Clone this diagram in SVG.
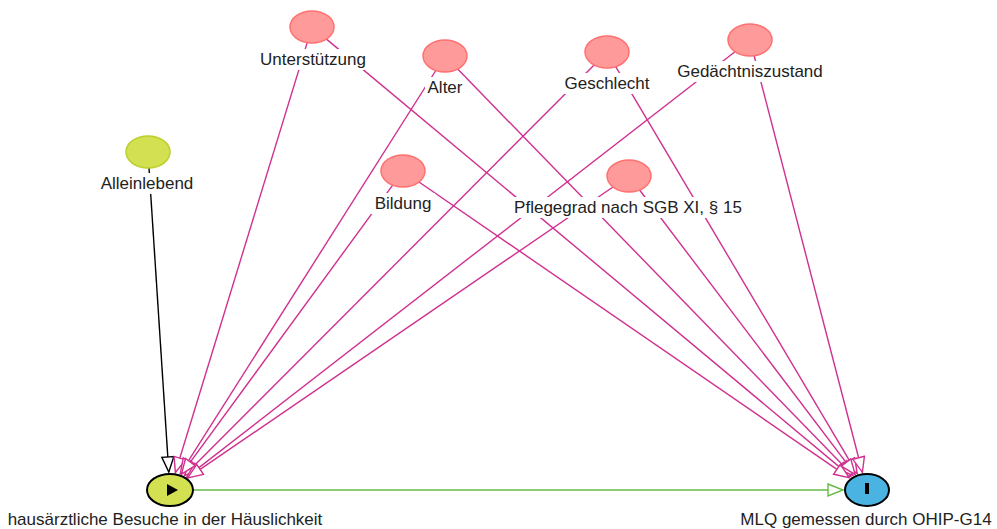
<svg xmlns="http://www.w3.org/2000/svg" width="997" height="529" viewBox="0 0 997 529">
<style>
.conf{fill:#ff9a9a;stroke:#ff7070;stroke-width:1.5}
.anc{fill:#d2e052;stroke:#bccf2a;stroke-width:1.5}
.lbl{font-family:"Liberation Sans",Arial,sans-serif;font-size:17px;fill:#222;text-anchor:middle}
.bg{fill:#fff}
.pk{stroke:#d0308f;stroke-width:1.4;fill:none}
.bk{stroke:#000;stroke-width:1.4;fill:none}
.gr{stroke:#66bb44;stroke-width:1.6;fill:none}
</style>
<defs>
<marker id="mp" markerUnits="userSpaceOnUse" markerWidth="20" markerHeight="16" refX="16" refY="7" orient="auto"><path d="M1,1 L16,7 L1,13 z" fill="#fff" stroke="#d0308f" stroke-width="1.4"/></marker>
<marker id="mb" markerUnits="userSpaceOnUse" markerWidth="20" markerHeight="16" refX="16" refY="7" orient="auto"><path d="M1,1 L16,7 L1,13 z" fill="#fff" stroke="#000" stroke-width="1.4"/></marker>
<marker id="mg" markerUnits="userSpaceOnUse" markerWidth="20" markerHeight="16" refX="16" refY="7" orient="auto"><path d="M1,1 L16,7 L1,13 z" fill="#fff" stroke="#66bb44" stroke-width="1.4"/></marker>
</defs>
<rect width="997" height="529" fill="#fff"/>
<g id="connectors">
<line class="bk" x1="149" y1="168" x2="168.8" y2="472" marker-end="url(#mb)"/>
<line class="pk" x1="307.2" y1="42.6" x2="175.4" y2="472.5" marker-end="url(#mp)"/>
<line class="pk" x1="435.8" y1="70.5" x2="180.3" y2="473.7" marker-end="url(#mp)"/>
<line class="pk" x1="594.1" y1="65" x2="184.4" y2="475.6" marker-end="url(#mp)"/>
<line class="pk" x1="735" y1="51.7" x2="186.7" y2="477.1" marker-end="url(#mp)"/>
<line class="pk" x1="392.7" y1="185.1" x2="181.5" y2="474.2" marker-end="url(#mp)"/>
<line class="pk" x1="613" y1="187" x2="187.7" y2="477.9" marker-end="url(#mp)"/>
<line class="pk" x1="326.5" y1="39.1" x2="851" y2="476.6" marker-end="url(#mp)"/>
<line class="pk" x1="457.7" y1="69.1" x2="852.9" y2="475.5" marker-end="url(#mp)"/>
<line class="pk" x1="615.7" y1="66.7" x2="857.2" y2="473.6" marker-end="url(#mp)"/>
<line class="pk" x1="754.1" y1="55.7" x2="862.4" y2="472.3" marker-end="url(#mp)"/>
<line class="pk" x1="419" y1="182" x2="849.3" y2="477.8" marker-end="url(#mp)"/>
<line class="pk" x1="639.6" y1="190" x2="855.1" y2="474.4" marker-end="url(#mp)"/>
<line class="gr" x1="193" y1="490" x2="843" y2="490" marker-end="url(#mg)"/>
</g>
<g id="n-unterstuetzung">
<ellipse class="conf" cx="312" cy="27" rx="22" ry="16"/>
<rect class="bg" x="257" y="49" width="112" height="21"/>
<text class="lbl" x="313" y="65">Unterstützung</text>
</g>
<g id="n-alter">
<ellipse class="conf" cx="445" cy="56" rx="22" ry="16"/>
<rect class="bg" x="425" y="77" width="40" height="21"/>
<text class="lbl" x="445" y="93">Alter</text>
</g>
<g id="n-geschlecht">
<ellipse class="conf" cx="607" cy="52" rx="22" ry="16"/>
<rect class="bg" x="561" y="73" width="92" height="21"/>
<text class="lbl" x="607" y="89">Geschlecht</text>
</g>
<g id="n-gedaechtnis">
<ellipse class="conf" cx="750" cy="40" rx="22" ry="16"/>
<rect class="bg" x="674" y="61" width="152" height="21"/>
<text class="lbl" x="750" y="77">Gedächtniszustand</text>
</g>
<g id="n-alleinlebend">
<ellipse class="anc" cx="148" cy="152" rx="22" ry="16"/>
<rect class="bg" x="98" y="173" width="98" height="21"/>
<text class="lbl" x="147" y="189">Alleinlebend</text>
</g>
<g id="n-bildung">
<ellipse class="conf" cx="403" cy="171" rx="22" ry="16"/>
<rect class="bg" x="371" y="193" width="64" height="21"/>
<text class="lbl" x="403" y="209">Bildung</text>
</g>
<g id="n-pflegegrad">
<ellipse class="conf" cx="629" cy="176" rx="22" ry="16"/>
<rect class="bg" x="510" y="197" width="236" height="21"/>
<text class="lbl" x="628" y="213">Pflegegrad nach SGB XI, § 15</text>
</g>
<g id="n-exposure">
<ellipse cx="170" cy="490" rx="23" ry="16" fill="#d2e052" stroke="#000" stroke-width="2"/>
<polygon points="167,484 178,490 167,496" fill="#000"/>
<text class="lbl" x="165" y="525">hausärztliche Besuche in der Häuslichkeit</text>
</g>
<g id="n-outcome">
<ellipse cx="867" cy="490" rx="22" ry="16" fill="#4ab3e2" stroke="#000" stroke-width="2"/>
<rect x="865" y="483" width="4" height="11" fill="#000"/>
<text class="lbl" x="866" y="525">MLQ gemessen durch OHIP-G14</text>
</g>
</svg>
